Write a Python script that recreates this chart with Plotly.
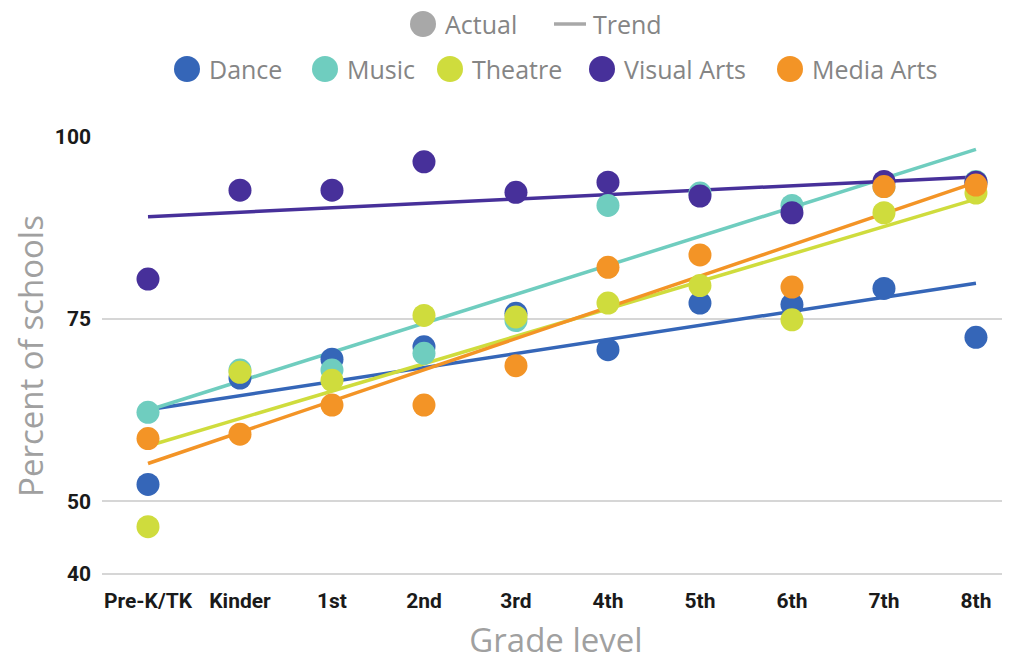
import numpy as np
import plotly.graph_objects as go

# ---------------- data ----------------
grades = ["Pre-K/TK", "Kinder", "1st", "2nd", "3rd", "4th", "5th", "6th", "7th", "8th"]
series_names = ["Dance", "Music", "Theatre", "Visual Arts", "Media Arts"]
dance = [52.3, 66.9, 69.5, 71.2, 75.8, 70.8, 77.2, 77.0, 79.2, 72.5]
music = [62.2, 68.0, 68.0, 70.3, 74.8, 90.6, 92.3, 90.6, 93.2, 93.9]
theatre = [46.5, 67.7, 66.6, 75.5, 75.3, 77.2, 79.6, 74.9, 89.6, 92.3]
visual_arts = [80.5, 92.7, 92.7, 96.6, 92.4, 93.8, 91.9, 89.6, 93.9, 93.8]
media_arts = [58.6, 59.2, 63.2, 63.2, 68.6, 82.1, 83.8, 79.4, 93.2, 93.4]
y_ticks = [40, 50, 75, 100]

# ---------------- style ----------------
colors = ["#3566b8", "#6fcdbf", "#cfdc3d", "#47309a", "#f39426"]
legend_gray = "#a8a8a8"
values = [dance, music, theatre, visual_arts, media_arts]

x = np.arange(len(grades))

fig = go.Figure()

# trend lines (least-squares fit of each series)
for name, vals, col in zip(series_names, values, colors):
    slope, intercept = np.polyfit(x, vals, 1)
    xt = np.array([x[0], x[-1]])
    fig.add_trace(go.Scatter(
        x=xt, y=slope * xt + intercept, mode="lines",
        line=dict(color=col, width=3.5), showlegend=False, hoverinfo="skip",
        cliponaxis=False,
    ))

# actual points
for name, vals, col in zip(series_names, values, colors):
    fig.add_trace(go.Scatter(
        x=x, y=vals, mode="markers", name=name,
        marker=dict(color=col, size=23, line=dict(width=0)),
        showlegend=False, cliponaxis=False,
    ))

# ---------------- layout geometry ----------------
OFF = 8                      # page body margin
FW, FH = 1010 - OFF, 662 - OFF
L, R, T, B = 102 - OFF, 1010 - OFF, 136 - OFF, 576 - OFF
W, H = R - L, B - T
y_range = [40 - 2 * 60 / 437, 100 + 1 * 60 / 437]


def px(xpage):
    return (xpage - OFF - L) / W


def py(ypage):
    return (B - (ypage - OFF)) / H


legend_font = dict(family="Open Sans, Noto Sans, sans-serif", size=25, color="#858585")
shapes = []
annotations = []

# row 1: Actual / Trend
row1_y = 24
shapes.append(dict(type="circle", xref="paper", yref="paper", xsizemode="pixel", ysizemode="pixel",
                   xanchor=px(423), yanchor=py(row1_y), x0=-13, x1=13, y0=-13, y1=13,
                   fillcolor=legend_gray, line=dict(width=0)))
annotations.append(dict(text="Actual", x=px(443), y=py(row1_y), xref="paper", yref="paper",
                        xanchor="left", yanchor="middle", showarrow=False, font=legend_font))
shapes.append(dict(type="line", xref="paper", yref="paper", x0=px(554), x1=px(586),
                   y0=py(row1_y), y1=py(row1_y), line=dict(color=legend_gray, width=3.5)))
annotations.append(dict(text="Trend", x=px(591), y=py(row1_y), xref="paper", yref="paper",
                        xanchor="left", yanchor="middle", showarrow=False, font=legend_font))

# row 2: series
row2_y = 69
legend_circle_x = [187, 325, 450, 602, 790]
for name, col, cx in zip(series_names, colors, legend_circle_x):
    shapes.append(dict(type="circle", xref="paper", yref="paper", xsizemode="pixel", ysizemode="pixel",
                       xanchor=px(cx), yanchor=py(row2_y), x0=-13, x1=13, y0=-13, y1=13,
                       fillcolor=col, line=dict(width=0)))
    annotations.append(dict(text=name, x=px(cx + 20), y=py(row2_y), xref="paper", yref="paper",
                            xanchor="left", yanchor="middle", showarrow=False, font=legend_font))

tick_font = dict(family="Roboto, Liberation Sans, sans-serif", size=21, color="#1a1a1a", weight="bold")
title_font = dict(family="Open Sans, Noto Sans, sans-serif", size=33, color="#a0a0a0")

fig.update_layout(
    width=FW, height=FH,
    margin=dict(l=L, r=FW - R, t=T, b=FH - B, pad=0),
    paper_bgcolor="white", plot_bgcolor="white",
    showlegend=False,
    shapes=shapes, annotations=annotations,
    xaxis=dict(
        range=[-0.5, 9.37], tickvals=x, ticktext=grades, showgrid=False, zeroline=False,
        showline=False, ticks="", tickfont=tick_font, ticklabelstandoff=10, automargin=False,
        title=dict(text="Grade level", font=title_font, standoff=16),
    ),
    yaxis=dict(
        range=y_range, tickvals=y_ticks, showgrid=True, gridcolor="#d6d6d6", gridwidth=2,
        zeroline=False, showline=False, ticks="", tickfont=tick_font, ticklabelstandoff=10,
        automargin=False,
        title=dict(text="Percent of schools", font=title_font, standoff=28),
    ),
)

fig.write_html("out.html")
